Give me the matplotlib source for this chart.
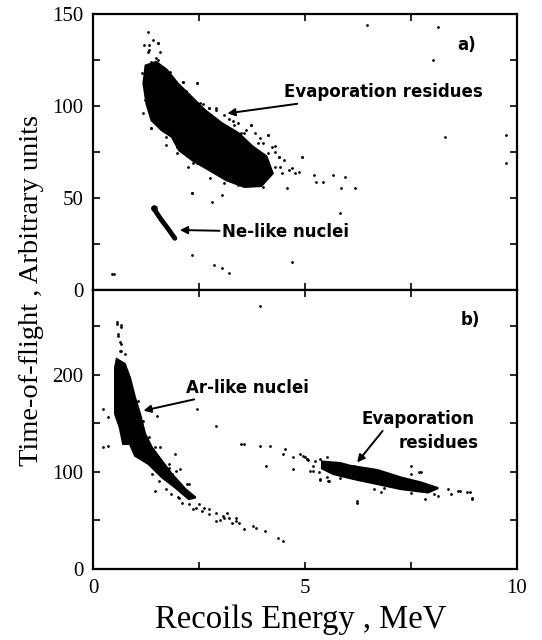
import matplotlib
matplotlib.use("Agg")
import matplotlib.pyplot as plt

# ---------------- data ----------------
# Panel a: outline of the dense evaporation-residue cloud
era_x = [1.24, 1.49, 1.75, 1.99, 2.31, 2.63, 3.03, 3.43, 3.76, 4.09, 4.24,
         3.97, 3.57, 3.15, 2.75, 2.35, 2.03, 1.86, 1.62, 1.38, 1.26, 1.19]
era_y = [122.0, 124.0, 119.5, 112.5, 105.3, 98.0, 90.8, 85.3, 78.1, 72.7, 63.4,
         56.5, 56.0, 59.6, 65.0, 70.4, 75.9, 83.2, 86.8, 92.2, 101.3, 112.3]
# Panel a: sparse events
spa_x = [1.29, 1.41, 1.21, 1.33, 1.53, 1.49, 1.77, 2.13, 2.45, 2.73, 2.89, 3.09,
         3.33, 3.49, 3.73, 3.93, 4.13, 4.21, 4.38, 4.41, 4.62, 4.86, 4.93, 5.22,
         5.26, 5.42, 5.66, 5.94, 5.86, 6.18, 4.57, 4.01, 2.33, 1.37, 1.73, 1.97,
         2.36, 2.56, 6.46, 8.14, 8.30, 9.74, 9.74, 8.02, 2.33, 2.85, 3.05, 3.21,
         0.45, 0.50, 4.69, 5.82, 2.81, 3.62, 3.30, 4.30,
         1.33, 1.53, 1.29, 1.57, 1.37, 1.53, 1.81, 2.13, 2.45, 2.53, 2.73, 2.89,
         2.93, 3.09, 3.41, 3.73, 3.81, 3.57, 3.89, 4.13, 4.30, 4.13, 4.38, 4.50,
         4.30, 4.45, 4.69, 4.93, 4.77, 1.37, 1.73, 1.97, 2.25, 2.45, 2.77, 3.09,
         3.41, 2.33, 3.05, 1.22, 1.25, 1.18, 1.15, 2.20, 2.60, 3.20, 3.60, 4.00]
spa_y = [140.4, 135.9, 133.0, 130.4, 134.0, 126.0, 118.6, 113.0, 112.3, 98.7, 97.8, 95.0,
         89.7, 85.2, 89.7, 82.4, 84.2, 77.9, 72.4, 67.0, 65.2, 64.3, 72.4, 62.5,
         58.9, 58.9, 62.5, 61.6, 55.3, 55.3, 55.3, 56.1, 52.5, 87.9, 83.3, 77.9,
         68.8, 68.8, 144.0, 143.0, 83.3, 84.2, 69.0, 125.0, 19.0, 13.6, 11.8, 9.1,
         8.7, 8.6, 15.4, 41.7, 48.0, 80.0, 92.0, 75.0,
         133.2, 134.0, 129.5, 129.5, 124.0, 125.0, 118.6, 113.2, 112.3, 101.5, 98.7, 98.7,
         92.4, 87.9, 90.6, 89.7, 85.2, 85.2, 79.7, 84.2, 78.0, 74.3, 72.4, 70.7,
         67.0, 63.4, 66.1, 72.4, 63.4, 87.9, 78.8, 74.3, 67.0, 68.8, 60.7, 58.0,
         57.1, 52.5, 51.6, 103.3, 110.5, 96.0, 118.0, 108.0, 101.0, 93.0, 87.0, 80.0]
# Panel a: Ne-like nuclei streak
ne_x = [1.43, 1.60, 1.78, 1.93]
ne_y = [44.4, 38.5, 33.0, 28.1]

# Panel b: outline of the Ar-like nuclei cloud
ar_x = [0.56, 0.75, 0.87, 0.99, 1.11, 1.23, 1.39, 1.63, 1.86, 2.18, 2.42,
        2.26, 1.94, 1.63, 1.31, 0.99, 0.87, 0.71, 0.63, 0.52, 0.52, 0.52]
ar_y = [216.0, 211.0, 197.0, 176.6, 159.5, 138.9, 125.0, 111.0, 97.6, 82.2, 73.5,
        71.9, 83.8, 94.1, 107.9, 116.5, 128.6, 128.6, 145.7, 159.5, 180.0, 207.5]
# Panel b: outline of the evaporation-residue band
erb_x = [5.40, 5.83, 6.07, 6.71, 7.26, 7.74, 8.14, 7.90, 7.26, 6.71, 6.15, 5.67, 5.40]
erb_y = [110.6, 109.0, 106.2, 101.8, 94.2, 89.0, 83.2, 78.7, 82.2, 87.3, 92.5, 97.6, 103.4]
# Panel b: sparse events
spb_x = [0.56, 0.67, 0.60, 0.63, 0.67, 1.51, 2.90, 2.46, 1.94, 1.47, 1.79, 2.26,
         2.50, 2.74, 2.90, 3.06, 3.21, 3.37, 3.57, 3.85, 4.05, 4.37, 4.48, 3.77,
         3.49, 3.57, 3.93, 4.17, 4.52, 4.48, 4.09, 4.72, 4.88, 5.04, 5.20, 5.12,
         4.72, 5.32, 5.56, 5.83, 3.93, 5.00, 5.07, 5.35, 5.52, 5.35, 6.23,
         7.74, 7.82, 7.50, 6.63, 8.45, 8.65, 8.89, 8.93, 8.14, 7.50, 2.10, 2.35,
         2.62, 3.00, 3.15, 3.45, 2.00, 2.20, 1.70,
         0.56, 0.67, 0.60, 0.67, 0.64, 0.75, 1.07, 1.19, 1.31, 1.47, 1.59, 1.86,
         1.79, 1.95, 2.06, 2.22, 1.39, 1.55, 1.71, 1.83, 2.02, 2.26, 2.42, 2.58,
         2.74, 2.90, 3.10, 3.29, 3.37, 0.24, 0.36, 0.36, 0.24,
         4.96, 5.04, 5.24, 5.52, 5.20, 5.36, 5.55, 5.83, 6.23, 6.86, 7.50, 7.70,
         8.37, 8.61, 8.81, 8.93, 8.05, 6.79, 6.47, 7.10, 6.15, 6.39]
spb_y = [254.0, 250.5, 242.0, 233.0, 224.7, 157.7, 147.4, 164.6, 118.0, 80.4, 107.9, 87.3,
         66.7, 61.5, 58.0, 54.6, 52.9, 49.5, 40.9, 42.6, 39.2, 32.3, 28.9, 44.3,
         128.6, 128.6, 126.8, 126.8, 123.4, 118.2, 106.2, 114.8, 118.2, 113.1, 106.2, 101.0,
         102.8, 99.3, 90.7, 97.6, 271.0, 115.0, 112.0, 113.5, 95.0, 92.0, 70.1,
         99.3, 71.9, 97.6, 82.2, 77.0, 80.4, 78.7, 71.9, 75.0, 78.0, 68.0, 62.0,
         63.0, 50.0, 58.0, 47.0, 74.0, 80.0, 100.0,
         252.0, 248.8, 240.0, 231.6, 224.7, 221.3, 173.2, 152.6, 135.4, 125.0, 125.0, 97.6,
         104.4, 101.0, 102.8, 87.3, 97.6, 90.7, 82.2, 77.0, 73.5, 66.7, 63.2, 59.8,
         56.4, 49.5, 52.9, 47.7, 52.9, 164.6, 156.0, 126.8, 125.0,
         116.5, 113.1, 111.3, 114.7, 101.0, 92.5, 90.7, 94.1, 68.4, 83.8, 106.2, 99.3,
         82.2, 80.4, 78.7, 73.5, 77.0, 78.7, 90.7, 90.7, 106.2, 101.0]

# ---------------- drawing ----------------
W, H = 542, 640
fig = plt.figure(figsize=(W / 100, H / 100), dpi=100)
ax_a = fig.add_axes([93 / W, 1 - 290 / H, 424 / W, 276 / H])
ax_b = fig.add_axes([93 / W, 1 - 569 / H, 424 / W, 279 / H])

serif = "Liberation Serif"
sans = "DejaVu Sans"
lab_kw = dict(fontfamily=sans, fontweight="bold", fontsize=12, color="black")
arrow_kw = dict(arrowstyle="-|>", color="black", lw=1.4,
                shrinkA=0, shrinkB=0, mutation_scale=11)

for ax in (ax_a, ax_b):
    ax.set_xlim(0, 10)
    ax.set_xticks([0, 2.5, 5, 7.5, 10])
    ax.tick_params(direction="in", top=True, right=True, length=5, width=1.2,
                   labelsize=15, pad=7)
    for s in ax.spines.values():
        s.set_linewidth(1.6)

# Panel a
ax_a.fill(era_x, era_y, color="black", lw=1.5, ec="black")
ax_a.scatter(spa_x, spa_y, s=4, color="black", lw=0)
ax_a.plot(ne_x, ne_y, color="black", lw=3.5, solid_capstyle="round")
ax_a.scatter([ne_x[0]], [ne_y[0]], s=22, color="black", lw=0)
ax_a.set_ylim(0, 150)
ax_a.set_yticks([0, 25, 50, 75, 100, 125, 150])
ax_a.set_yticklabels(["0", "", "50", "", "100", "", "150"], fontfamily=serif, fontsize=15)
ax_a.set_xticklabels([])
ax_a.text(8.58, 133, "a)", ha="left", va="center", **lab_kw)
ax_a.annotate("Evaporation residues", xy=(3.17, 96), xytext=(4.5, 107.6),
              ha="left", va="center", arrowprops=arrow_kw, **lab_kw)
ax_a.annotate("Ne-like nuclei", xy=(2.05, 32.6), xytext=(3.05, 31.5),
              ha="left", va="center", arrowprops=arrow_kw, **lab_kw)

# Panel b
ax_b.fill(ar_x, ar_y, color="black", lw=1.5, ec="black")
ax_b.fill(erb_x, erb_y, color="black", lw=1.5, ec="black")
ax_b.scatter(spb_x, spb_y, s=4, color="black", lw=0)
ax_b.set_ylim(0, 287)
ax_b.set_yticks([0, 50, 100, 150, 200, 250])
ax_b.set_yticklabels(["0", "", "100", "", "200", ""], fontfamily=serif, fontsize=15)
ax_b.set_xticklabels(["0", "", "5", "", "10"], fontfamily=serif, fontsize=15)
ax_b.text(8.66, 255.7, "b)", ha="left", va="center", **lab_kw)
ax_b.annotate("Ar-like nuclei", xy=(1.19, 162.9), xytext=(2.19, 186.6),
              ha="left", va="center", arrowprops=arrow_kw, **lab_kw)
ax_b.text(9.0, 154.6, "Evaporation", ha="right", va="center", **lab_kw)
ax_b.text(9.1, 130, "residues", ha="right", va="center", **lab_kw)
ax_b.annotate("", xy=(6.23, 109.6), xytext=(6.83, 142), arrowprops=arrow_kw)

fig.text(32 / W, 1 - 290 / H, "Time-of-flight , Arbitrary units", rotation=90,
         ha="center", va="center", fontfamily=serif, fontsize=20.5)
fig.text(301 / W, 1 - 620 / H, "Recoils Energy , MeV", ha="center", va="center",
         fontfamily=serif, fontsize=23.5)

fig.savefig("out.png", dpi=100)
